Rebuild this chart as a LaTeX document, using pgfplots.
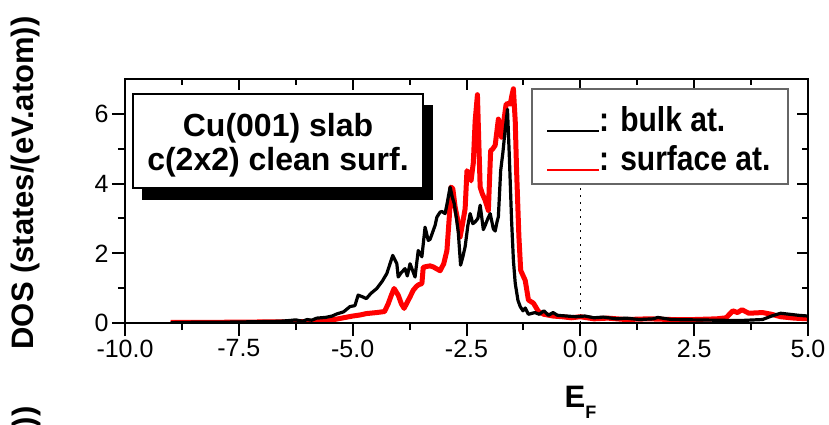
\documentclass[border=0pt]{standalone}
\usepackage{fontspec}
\setmainfont{Liberation Sans}
\usepackage{pgfplots}
\pgfplotsset{compat=1.18}

\newcommand\tickfont{\fontsize{25}{30}\selectfont}
\newcommand\labfont{\fontsize{31}{36}\selectfont\bfseries}

\begin{document}
\begin{tikzpicture}
\useasboundingbox (0,0) rectangle (829pt,-424pt);

\begin{axis}[
    at={(125pt,-323pt)}, anchor=south west,
    scale only axis, width=683pt, height=244pt,
    xmin=-10, xmax=5, ymin=0, ymax=7,
    xtick={-10,-7.5,-5,-2.5,0,2.5,5},
    xticklabels={-10.0,-7.5,-5.0,-2.5,0.0,2.5,5.0},
    minor xtick={-8.75,-6.25,-3.75,-1.25,1.25,3.75},
    ytick={0,2,4,6}, minor ytick={1,3,5},
    xtick pos=bottom, ytick pos=left, tick align=outside,
    major tick length=13pt, minor tick length=7pt,
    tick style={line width=2pt, black},
    axis line style={line width=2.5pt},
    ticklabel style={font=\tickfont},
    /pgf/number format/assume math mode=true,
    xlabel={E\raisebox{-11pt}{\fontsize{18}{18}\selectfont F}},
    xlabel style={font=\labfont, at={(axis description cs:0.667,-0.348)}, anchor=base},
    ylabel={DOS (states/(eV.atom))},
    ylabel style={font=\labfont, at={(axis description cs:-0.145,0.574)}, anchor=center},
    clip=true,
]
% dotted line at E = 0
\addplot[black, line width=1.6pt, dash pattern=on 2pt off 5pt] coordinates {(0,0) (0,7)};

% surface atom
\addplot[red, line width=5pt, line join=round] coordinates {
(-9.0,0.02) (-8.0,0.02) (-7.0,0.03) (-6.5,0.03) (-6.0,0.04) (-5.7,0.06)
(-5.4,0.10) (-5.2,0.15) (-5.0,0.20) (-4.84,0.23) (-4.7,0.27) (-4.47,0.30)
(-4.3,0.33) (-4.22,0.55) (-4.15,0.80) (-4.09,0.99) (-4.0,0.80) (-3.93,0.55)
(-3.87,0.42) (-3.8,0.60) (-3.74,0.75) (-3.67,0.94) (-3.6,1.05) (-3.55,1.10)
(-3.48,1.13) (-3.45,1.60) (-3.38,1.62) (-3.3,1.64) (-3.23,1.61) (-3.15,1.55)
(-3.08,1.50) (-3.0,1.70) (-2.93,2.08) (-2.88,3.00) (-2.84,3.90) (-2.80,3.85)
(-2.75,3.33) (-2.7,3.00) (-2.64,2.47) (-2.58,2.90) (-2.53,3.28) (-2.49,4.37)
(-2.44,4.25) (-2.4,4.08) (-2.35,4.60) (-2.31,5.80) (-2.26,6.55) (-2.23,5.20)
(-2.2,3.90) (-2.15,3.70) (-2.09,3.52) (-2.02,3.23) (-1.97,4.94) (-1.92,5.00)
(-1.87,5.10) (-1.8,5.85) (-1.76,5.60) (-1.73,5.33) (-1.68,5.80) (-1.63,6.28)
(-1.57,6.30) (-1.54,6.28) (-1.5,6.55) (-1.47,6.72) (-1.43,5.80) (-1.40,4.37)
(-1.35,2.50) (-1.31,1.51) (-1.21,1.22) (-1.14,0.66) (-1.03,0.57) (-0.92,0.33)
(-0.8,0.25) (-0.6,0.20) (-0.4,0.18) (-0.2,0.15) (0.0,0.18) (0.3,0.12)
(0.6,0.14) (1.0,0.10) (1.5,0.12) (2.0,0.10) (2.5,0.10) (3.0,0.12)
(3.2,0.15) (3.35,0.35) (3.45,0.30) (3.55,0.38) (3.7,0.28) (4.0,0.30)
(4.2,0.25) (4.4,0.18) (4.7,0.14) (5.0,0.12)
};

% bulk atom
\addplot[black, line width=3.2pt, line join=round] coordinates {
(-9.0,0.01) (-8.5,0.02) (-8.0,0.02) (-7.5,0.03) (-7.0,0.04) (-6.6,0.05)
(-6.4,0.07) (-6.25,0.09) (-6.1,0.05) (-6.0,0.10) (-5.9,0.08) (-5.79,0.14)
(-5.6,0.16) (-5.45,0.20) (-5.35,0.26) (-5.2,0.32) (-5.06,0.47) (-4.95,0.50)
(-4.88,0.80) (-4.78,0.75) (-4.7,0.70) (-4.6,0.85) (-4.47,0.99) (-4.35,1.20)
(-4.25,1.42) (-4.12,1.94) (-4.03,1.70) (-4.0,1.32) (-3.93,1.45) (-3.85,1.56)
(-3.8,1.35) (-3.74,1.70) (-3.63,1.32) (-3.56,2.08) (-3.48,1.90) (-3.41,2.75)
(-3.34,2.37) (-3.30,2.40) (-3.19,2.80) (-3.15,3.04) (-3.08,3.18) (-3.04,3.20)
(-2.97,3.14) (-2.93,3.40) (-2.86,3.90) (-2.81,3.60) (-2.77,3.43) (-2.72,3.00)
(-2.68,2.60) (-2.63,1.66) (-2.58,1.90) (-2.53,2.19) (-2.47,2.80) (-2.42,3.14)
(-2.36,2.85) (-2.31,2.90) (-2.25,3.00) (-2.2,3.38) (-2.13,2.68) (-2.09,2.80)
(-2.03,3.00) (-1.98,3.14) (-1.91,2.70) (-1.87,2.64) (-1.83,2.90) (-1.80,3.05)
(-1.75,4.37) (-1.70,4.90) (-1.65,5.56) (-1.60,6.13) (-1.56,4.80) (-1.51,2.94)
(-1.47,1.80) (-1.43,1.14) (-1.37,0.65) (-1.32,0.47) (-1.26,0.35) (-1.21,0.43)
(-1.14,0.25) (-1.0,0.30) (-0.9,0.25) (-0.8,0.35) (-0.7,0.22) (-0.6,0.30)
(-0.5,0.22) (-0.3,0.20) (-0.1,0.18) (0.1,0.20) (0.3,0.15) (0.5,0.17)
(0.8,0.12) (1.0,0.14) (1.3,0.10) (1.6,0.12) (1.7,0.16) (2.0,0.10)
(2.5,0.09) (3.0,0.08) (3.5,0.07) (4.0,0.10) (4.2,0.20) (4.4,0.28)
(4.6,0.25) (4.8,0.22) (5.0,0.20)
};
\end{axis}

% mirrored ticks on top and right, pointing in
\begin{axis}[
    at={(125pt,-323pt)}, anchor=south west,
    scale only axis, width=683pt, height=244pt,
    xmin=-10, xmax=5, ymin=0, ymax=7,
    xtick={-10,-7.5,-5,-2.5,0,2.5,5},
    minor xtick={-8.75,-6.25,-3.75,-1.25,1.25,3.75},
    ytick={0,2,4,6}, minor ytick={1,3,5},
    xtick pos=top, ytick pos=right, tick align=inside,
    major tick length=11pt, minor tick length=6pt,
    tick style={line width=2pt, black},
    axis line style={line width=2.5pt},
    xticklabels={}, yticklabels={},
]
\end{axis}

% text box with shadow
\fill[black] (142pt,-105pt) rectangle (433pt,-200pt);
\draw[fill=white, line width=1.5pt] (133pt,-94pt) rectangle (423pt,-188pt);
\node[anchor=base, font=\fontsize{32}{36}\selectfont\bfseries] at (278pt,-136pt) {Cu(001) slab};
\node[anchor=base, font=\fontsize{32}{36}\selectfont\bfseries] at (278pt,-170pt) {c(2x2) clean surf.};

% legend
\draw[fill=white, draw=black!60, line width=1.5pt] (532pt,-89pt) rectangle (788pt,-184pt);
\draw[black, line width=2pt] (547pt,-131pt) -- (599pt,-131pt);
\draw[red, line width=2pt] (547pt,-170pt) -- (599pt,-170pt);
\node[anchor=base west, inner sep=0pt, font=\fontsize{30}{34}\selectfont\bfseries] at (599pt,-131pt) {\scalebox{1}[1.15]{: bulk at.}};
\node[anchor=base west, inner sep=0pt, font=\fontsize{30}{34}\selectfont\bfseries] at (599pt,-170pt) {\scalebox{1}[1.15]{: surface at.}};

% label of the next panel, cut by the page edge
\node[rotate=90, font=\labfont] at (26pt,-573pt) {DOS (states/(eV.atom))};
\end{tikzpicture}
\end{document}
